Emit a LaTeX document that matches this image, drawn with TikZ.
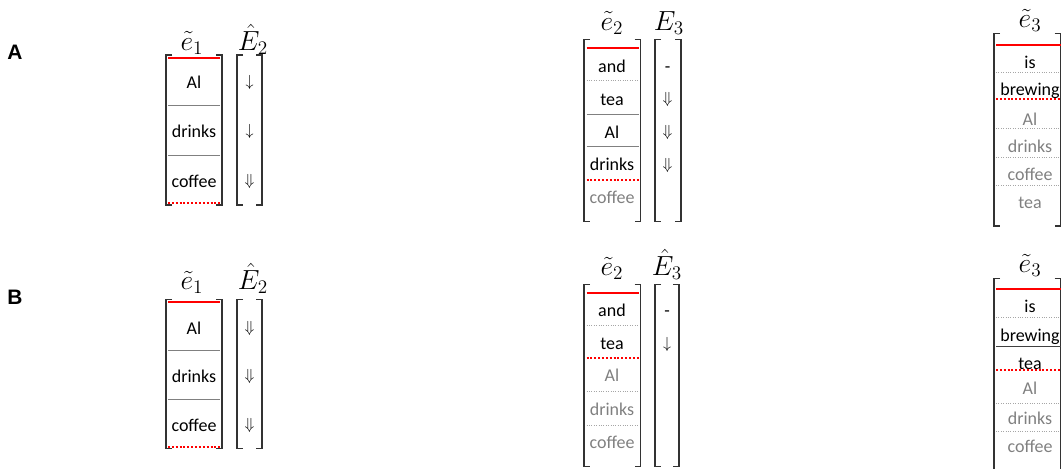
\documentclass[tikz,border=0pt]{standalone}
\usepackage{fontspec}
\setmainfont{Carlito}
\newfontfamily\panelfont{Liberation Sans}
\begin{document}
\begin{tikzpicture}[x=0.75pt,y=-0.75pt,
  word/.style={inner sep=0pt,text height=8.7pt,text depth=0pt,font=\fontsize{13.5}{16}\selectfont},
  faded/.style={word,text=black!50},
  ttl/.style={inner sep=0pt,anchor=base,font=\huge},
  arw/.style={inner sep=0pt,font=\large},
  lbl/.style={inner sep=0pt,font=\panelfont\bfseries\fontsize{15.7}{18}\selectfont},
  brk/.style={draw=black!80,line width=1pt},
  hit/.style={draw=red,line width=1.6pt},
  miss/.style={draw=red,line width=1.5pt,dash pattern=on 1.5pt off 1.4pt},
  sep/.style={draw=black!50,line width=0.6pt},
  darksep/.style={draw=black!75,line width=0.7pt},
  dotsep/.style={draw=black!35,line width=0.6pt,dash pattern=on 0.6pt off 1.2pt}]%
% columns in pixel units, y downwards
\global\def\colbox#1#2#3#4{\draw[brk] (#1+6,#3) -- (#1,#3) -- (#1,#4) -- (#1+6,#4);
 \draw[brk] (#2-6,#3) -- (#2,#3) -- (#2,#4) -- (#2-6,#4);}
\useasboundingbox (0,0) rectangle (1061,468);
\node[lbl] (lblA) at (15,52) {A};
\node[lbl] (lblB) at (15,297) {B};
%
\colbox{166}{222}{55}{205}
\node[ttl] (Ae1) at (192,50) {$\tilde{e}_1$};
\draw[hit] (168,57.7) -- (220,57.7);
\node[word] (Ae1a) at (194,82.3) {Al};
\draw[sep] (168,105.5) -- (220,105.5);
\node[word] (Ae1b) at (194,131.6) {drinks};
\draw[sep] (168,155) -- (220,155);
\node[word] (Ae1c) at (194,181.5) {coffee};
\draw[miss] (168,203) -- (220,203);
\colbox{237}{262}{55}{205}
\node[ttl] (AE2) at (253,50) {$\hat{E}_2$};
\node[arw] (AE2a) at (249.5,82.5) {$\downarrow$};
\node[arw] (AE2b) at (249.5,131.5) {$\downarrow$};
\node[arw] (AE2c) at (249.5,181.5) {$\Downarrow$};
%
\colbox{584}{640.5}{39.5}{221.5}
\node[ttl] (Ae2) at (612,30) {$\tilde{e}_2$};
\draw[hit] (586.5,47.7) -- (638.5,47.7);
\node[word] (Ae2a) at (612,66.7) {and};
\draw[dotsep] (586.5,80.7) -- (638.5,80.7);
\node[word] (Ae2b) at (612,99.3) {tea};
\draw[sep] (586.5,114.3) -- (638.5,114.3);
\node[word] (Ae2c) at (612,132.3) {Al};
\draw[sep] (586.5,146.7) -- (638.5,146.7);
\node[word] (Ae2d) at (612,165) {drinks};
\draw[miss] (586.5,180) -- (638.5,180);
\node[faded] (Ae2e) at (612,197.7) {coffee};
\colbox{655}{681}{39.5}{221.5}
\node[ttl] (AE3) at (669,30) {$E_3$};
\node[word] (AE3a) at (667.5,66.7) {-};
\node[arw] (AE3b) at (667.5,99.3) {$\Downarrow$};
\node[arw] (AE3c) at (667.5,132.3) {$\Downarrow$};
\node[arw] (AE3d) at (667.5,165) {$\Downarrow$};
%
\colbox{994}{1060.5}{33.3}{226}
\node[ttl] (Ae3) at (1030,27.3) {$\tilde{e}_3$};
\draw[hit] (996,45) -- (1061,45);
\node[word] (Ae3a) at (1030,62.3) {is};
\draw[dotsep] (996,72.7) -- (1061,72.7);
\node[word] (Ae3b) at (1030,89.5) {brewing};
\draw[miss] (996,99.3) -- (1061,99.3);
\node[faded] (Ae3c) at (1030,119.2) {Al};
\draw[dotsep] (996,128.3) -- (1061,128.3);
\node[faded] (Ae3d) at (1030,146.9) {drinks};
\draw[dotsep] (996,157.3) -- (1061,157.3);
\node[faded] (Ae3e) at (1030,174.2) {coffee};
\draw[dotsep] (996,185) -- (1061,185);
\node[faded] (Ae3f) at (1030,202.7) {tea};
%
\colbox{166}{222}{299.3}{448.3}
\node[ttl] (Be1) at (192,289.3) {$\tilde{e}_1$};
\draw[hit] (168,302.3) -- (220,302.3);
\node[word] (Be1a) at (194,328.3) {Al};
\draw[sep] (168,350) -- (220,350);
\node[word] (Be1b) at (194,376.7) {drinks};
\draw[sep] (168,399.3) -- (220,399.3);
\node[word] (Be1c) at (194,425.7) {coffee};
\draw[miss] (168,446.7) -- (220,446.7);
\colbox{237}{262}{299.3}{448.3}
\node[ttl] (BE2) at (253,289.3) {$\hat{E}_2$};
\node[arw] (BE2a) at (249.5,328.3) {$\Downarrow$};
\node[arw] (BE2b) at (249.5,376.7) {$\Downarrow$};
\node[arw] (BE2c) at (249.5,425.7) {$\Downarrow$};
%
\colbox{584}{640.5}{284.3}{466.7}
\node[ttl] (Be2) at (612,275.7) {$\tilde{e}_2$};
\draw[hit] (586.5,292.7) -- (638.5,292.7);
\node[word] (Be2a) at (612,310.7) {and};
\draw[dotsep] (586.5,325) -- (638.5,325);
\node[word] (Be2b) at (612,344) {tea};
\draw[miss] (586.5,358.3) -- (638.5,358.3);
\node[faded] (Be2c) at (612,376) {Al};
\draw[dotsep] (586.5,391.7) -- (638.5,391.7);
\node[faded] (Be2d) at (612,409.3) {drinks};
\draw[dotsep] (586.5,425) -- (638.5,425);
\node[faded] (Be2e) at (612,442.7) {coffee};
\colbox{655}{679}{284.3}{466.7}
\node[ttl] (BE3) at (667,275.7) {$\hat{E}_3$};
\node[word] (BE3a) at (667,310.7) {-};
\node[arw] (BE3b) at (667,344) {$\downarrow$};
%
\colbox{994}{1060.5}{278.3}{480}
\node[ttl] (Be3) at (1030,272.3) {$\tilde{e}_3$};
\draw[hit] (996,289) -- (1061,289);
\node[word] (Be3a) at (1030,306.7) {is};
\draw[dotsep] (996,317.7) -- (1061,317.7);
\node[word] (Be3b) at (1030,335.7) {brewing};
\draw[darksep] (996,346) -- (1061,346);
\node[word] (Be3c) at (1030,364) {tea};
\draw[miss] (996,370) -- (1061,370);
\node[faded] (Be3d) at (1030,389) {Al};
\draw[dotsep] (996,403.3) -- (1061,403.3);
\node[faded] (Be3e) at (1030,418.3) {drinks};
\draw[dotsep] (996,431.7) -- (1061,431.7);
\node[faded] (Be3f) at (1030,446.7) {coffee};
\end{tikzpicture}
\end{document}
